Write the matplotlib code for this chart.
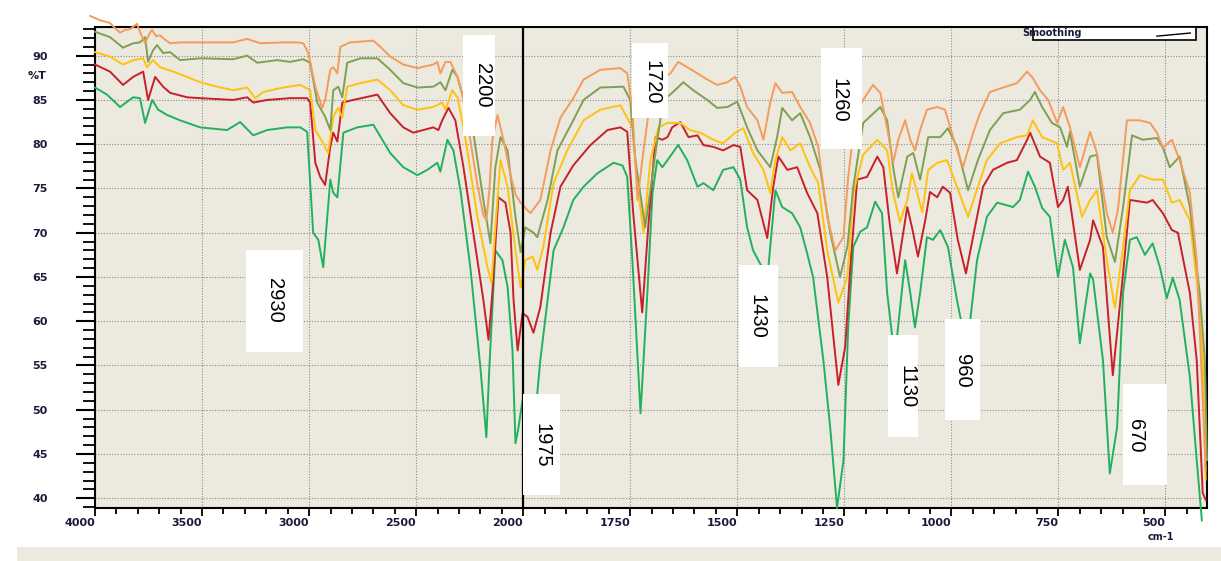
import numpy as np
import matplotlib
matplotlib.use("Agg")
import matplotlib.pyplot as plt
from matplotlib.patches import Rectangle
from matplotlib.lines import Line2D

# Spectres IR (%T en fonction du nombre d'onde, cm-1)
wn_orange = [4023, 3977, 3930, 3906, 3883, 3860, 3836, 3804, 3790, 3766, 3743, 3733, 3715, 3696, 3673, 3649,
             3603, 3509, 3355, 3289, 3228, 3121, 3055, 3027, 3004, 2971, 2939, 2925, 2901, 2887, 2868, 2854,
             2808, 2700, 2667, 2621, 2560, 2494, 2420, 2401, 2387, 2363, 2340, 2307, 2284, 2247, 2214, 2186,
             2172, 2158, 2144, 2120, 2092, 2059, 2036, 2012, 1995, 1983, 1960, 1936, 1913, 1883, 1859, 1820,
             1773, 1757, 1745, 1733, 1719, 1703, 1680, 1656, 1638, 1617, 1593, 1570, 1547, 1523, 1505, 1493,
             1477, 1453, 1439, 1423, 1411, 1395, 1372, 1353, 1330, 1311, 1290, 1271, 1252, 1241, 1224, 1206,
             1183, 1166, 1148, 1136, 1124, 1108, 1096, 1085, 1073, 1057, 1033, 1015, 996, 973, 949, 933, 910,
             879, 847, 823, 810, 793, 774, 753, 739, 723, 700, 676, 660, 637, 623, 611, 590, 560, 536, 520,
             506, 485, 467, 443, 427, 413, 406]
t_orange = [94.5, 94.0, 93.7, 93.1, 92.6, 92.9, 93.0, 93.6, 92.7, 91.4, 92.6, 92.9, 92.2, 92.3, 91.8, 91.4,
            91.5, 91.5, 91.5, 91.9, 91.4, 91.5, 91.5, 91.4, 90.3, 86.5, 84.1, 85.0, 88.4, 88.7, 88.0, 91.0,
            91.5, 91.7, 91.0, 89.9, 89.0, 88.6, 89.0, 89.3, 88.0, 89.3, 89.3, 87.6, 85.6, 80.5, 75.4, 72.0,
            71.4, 74.8, 80.5, 83.3, 80.5, 76.5, 74.3, 73.4, 72.8, 72.2, 73.7, 79.3, 83.0, 85.2, 87.3, 88.4,
            88.6, 88.0, 83.9, 73.7, 79.3, 85.0, 87.3, 88.0, 89.3, 88.7, 88.0, 87.3, 86.7, 87.0, 87.6, 86.5,
            84.2, 82.7, 80.5, 84.7, 86.9, 85.8, 85.9, 84.2, 82.4, 79.7, 71.8, 68.0, 69.5, 76.3, 83.3, 85.0,
            86.7, 85.8, 81.3, 77.9, 80.5, 82.7, 80.5, 79.3, 81.6, 83.9, 84.2, 83.9, 80.8, 77.4, 81.3, 83.5, 85.9,
            86.4, 86.9, 88.2, 87.5, 86.1, 85.0, 82.4, 84.2, 81.9, 77.4, 81.4, 79.0, 72.2, 70.0, 72.6, 82.7, 82.7, 82.4, 81.3,
            79.6, 80.5, 78.2, 74.5, 66.9, 51.1, 43.2]

wn_olive = [4000, 3930, 3869, 3822, 3790, 3766, 3752, 3729, 3710, 3682, 3649, 3603, 3509, 3355, 3289, 3242,
            3149, 3088, 3027, 2995, 2962, 2925, 2901, 2887, 2864, 2845, 2822, 2761, 2681, 2621, 2560, 2494,
            2420, 2387, 2363, 2331, 2307, 2270, 2233, 2186, 2153, 2130, 2106, 2073, 2036, 2012, 1995, 1976,
            1967, 1943, 1920, 1883, 1859, 1820, 1766, 1750, 1738, 1715, 1691, 1673, 1652, 1626, 1603, 1570,
            1547, 1523, 1500, 1477, 1453, 1423, 1407, 1395, 1372, 1353, 1330, 1306, 1283, 1260, 1243, 1229,
            1206, 1166, 1150, 1136, 1124, 1103, 1089, 1073, 1054, 1026, 1008, 987, 961, 938, 910, 879, 840,
            816, 805, 788, 765, 746, 730, 723, 700, 676, 660, 637, 618, 599, 578, 553, 520, 506, 490, 467,
            443, 420, 408, 403]
t_olive = [92.7, 92.1, 90.9, 91.4, 91.5, 92.1, 89.3, 90.6, 91.2, 90.3, 90.4, 89.5, 89.7, 89.6, 90.0, 89.2,
           89.5, 89.3, 89.6, 89.2, 84.7, 83.1, 81.6, 86.1, 86.5, 85.3, 89.2, 89.7, 89.7, 88.4, 86.9, 86.4,
           86.5, 87.0, 86.1, 88.4, 87.6, 84.4, 81.3, 73.7, 68.8, 77.4, 80.8, 79.3, 71.8, 67.8, 70.6, 70.0,
           69.5, 73.7, 79.3, 82.7, 85.0, 86.4, 86.5, 85.0, 78.2, 70.6, 79.0, 85.0, 85.8, 87.0, 86.1, 85.0,
           84.1, 84.2, 84.8, 81.9, 79.3, 77.4, 80.8, 84.1, 82.7, 83.5, 80.8, 77.1, 70.0, 65.0, 68.4, 75.2,
           82.4, 84.2, 82.7, 77.4, 74.0, 78.6, 79.0, 76.0, 80.8, 80.8, 81.8, 79.7, 74.8, 78.2, 81.6, 83.5, 83.9,
           85.0, 85.9, 84.2, 82.4, 81.9, 79.7, 81.4, 75.2, 78.6, 78.8, 69.5, 66.7, 72.9, 81.0, 80.5, 80.7, 79.6, 77.4, 78.6,
           72.9, 63.2, 55.6, 44.3]

wn_yellow = [4000, 3930, 3869, 3822, 3775, 3757, 3729, 3696, 3635, 3570, 3509, 3430, 3355, 3289, 3252, 3214,
             3121, 3041, 2995, 2971, 2934, 2911, 2887, 2864, 2845, 2822, 2761, 2681, 2621, 2560, 2494, 2420,
             2378, 2363, 2331, 2307, 2279, 2261, 2214, 2167, 2148, 2130, 2106, 2073, 2036, 2012, 1995, 1978,
             1967, 1953, 1929, 1897, 1859, 1820, 1773, 1745, 1731, 1719, 1703, 1684, 1663, 1633, 1610, 1586,
             1556, 1533, 1505, 1486, 1463, 1439, 1423, 1411, 1395, 1376, 1353, 1330, 1311, 1290, 1264, 1243,
             1229, 1206, 1173, 1150, 1136, 1120, 1103, 1092, 1080, 1068, 1054, 1033, 1010, 987, 961, 938, 917,
             886, 847, 823, 810, 788, 753, 739, 723, 695, 676, 660, 637, 618, 599, 583, 560, 530, 506, 485,
             467, 443, 424, 413, 406]
t_yellow = [90.4, 89.9, 89.0, 89.5, 89.7, 88.7, 89.5, 88.7, 88.2, 87.6, 87.0, 86.5, 86.1, 86.4, 85.2, 85.9,
            86.4, 86.7, 86.1, 81.6, 80.1, 79.0, 83.1, 84.1, 83.0, 86.5, 86.9, 87.3, 86.1, 84.4, 83.9, 84.2,
            84.7, 83.9, 86.1, 85.3, 81.9, 79.3, 71.8, 66.1, 64.3, 70.6, 78.2, 75.2, 68.0, 63.8, 66.9, 67.3,
            65.8, 68.4, 75.6, 79.3, 82.7, 83.9, 84.4, 81.9, 74.5, 70.0, 78.2, 81.9, 82.4, 82.4, 81.6, 81.3,
            80.5, 80.1, 81.3, 81.8, 79.0, 77.1, 74.5, 78.2, 80.8, 79.3, 80.1, 77.4, 75.6, 68.0, 62.1, 65.0,
            74.5, 78.8, 80.5, 79.3, 74.5, 71.2, 73.7, 76.7, 74.5, 72.3, 77.1, 77.9, 78.2, 75.2, 71.8, 75.2, 78.2,
            80.1, 80.8, 81.0, 82.7, 80.8, 80.1, 77.1, 77.9, 71.8, 73.7, 74.8, 66.9, 61.5, 68.4, 74.8, 76.5, 76.0, 76.0, 73.4,
            73.7, 71.4, 63.2, 55.6, 42.1]

wn_red = [4000, 3930, 3869, 3822, 3775, 3752, 3719, 3682, 3649, 3570, 3509, 3355, 3289, 3261, 3196, 3088,
          3009, 2995, 2971, 2948, 2925, 2901, 2887, 2868, 2845, 2794, 2681, 2621, 2560, 2513, 2420, 2396,
          2378, 2349, 2317, 2279, 2233, 2186, 2162, 2144, 2116, 2083, 2059, 2045, 2026, 2003, 1990, 1976,
          1960, 1936, 1913, 1883, 1843, 1803, 1773, 1757, 1743, 1722, 1708, 1691, 1675, 1663, 1652, 1633,
          1614, 1593, 1579, 1556, 1533, 1509, 1493, 1477, 1453, 1430, 1416, 1404, 1383, 1360, 1337, 1313,
          1290, 1264, 1248, 1236, 1220, 1197, 1173, 1159, 1143, 1127, 1115, 1103, 1092, 1078, 1061, 1050,
          1033, 1020, 1003, 985, 966, 945, 926, 903, 870, 847, 823, 816, 793, 770, 751, 739, 728, 700, 676,
          669, 646, 623, 599, 583, 543, 530, 506, 485, 471, 443, 427, 413, 406]
t_red = [89.0, 88.2, 86.7, 87.6, 88.2, 85.0, 87.6, 86.5, 85.8, 85.3, 85.2, 85.0, 85.3, 84.7, 85.0, 85.2,
         85.2, 84.7, 77.9, 76.3, 75.4, 79.7, 81.3, 80.3, 84.7, 85.0, 85.6, 83.5, 81.9, 81.3, 81.9, 81.6,
         82.7, 84.1, 82.7, 77.4, 70.0, 62.4, 57.9, 63.2, 74.0, 73.4, 70.0, 62.4, 56.7, 60.9, 60.5, 58.7,
         61.6, 70.0, 75.2, 77.6, 79.9, 81.6, 81.9, 81.4, 72.2, 61.0, 70.6, 80.8, 80.5, 80.8, 81.9, 82.5,
         80.8, 81.0, 79.9, 79.7, 79.3, 79.9, 79.7, 74.8, 73.7, 69.4, 75.2, 78.6, 77.1, 77.4, 74.5, 72.2,
         65.0, 52.8, 57.1, 66.1, 76.0, 76.3, 78.6, 77.4, 70.6, 65.4, 69.2, 72.9, 70.6, 67.3, 71.4, 74.6,
         74.0, 75.2, 74.5, 69.2, 65.4, 70.6, 75.2, 77.1, 77.9, 78.2, 80.5, 81.3, 78.6, 77.9, 72.9, 73.7, 75.2, 65.8, 69.2,
         71.4, 68.4, 53.9, 65.4, 73.7, 73.4, 73.7, 72.2, 70.3, 70.0, 63.2, 55.6, 40.6, 39.8]

wn_green = [4000, 3944, 3883, 3822, 3790, 3766, 3733, 3705, 3663, 3603, 3509, 3383, 3322, 3261, 3196, 3102,
            3041, 3009, 2981, 2957, 2934, 2915, 2901, 2887, 2868, 2840, 2775, 2700, 2621, 2560, 2494, 2448,
            2401, 2387, 2354, 2326, 2293, 2247, 2200, 2172, 2158, 2130, 2097, 2073, 2050, 2036, 2022, 2003,
            1990, 1976, 1967, 1960, 1929, 1906, 1883, 1859, 1827, 1789, 1768, 1757, 1745, 1726, 1710, 1698,
            1687, 1675, 1663, 1638, 1617, 1593, 1579, 1556, 1533, 1509, 1493, 1477, 1463, 1439, 1430, 1411,
            1395, 1372, 1353, 1337, 1323, 1299, 1283, 1267, 1252, 1241, 1229, 1213, 1197, 1178, 1162, 1150,
            1138, 1131, 1127, 1108, 1096, 1085, 1073, 1057, 1043, 1026, 1008, 987, 973, 956, 940, 917, 893,
            856, 840, 821, 805, 788, 770, 751, 735, 716, 700, 676, 669, 646, 630, 613, 599, 583, 567, 548,
            530, 513, 497, 483, 467, 443, 427, 415]
t_green = [86.4, 85.6, 84.2, 85.3, 85.2, 82.4, 85.0, 83.9, 83.3, 82.7, 81.9, 81.6, 82.5, 81.0, 81.6, 81.9,
           81.9, 81.4, 70.0, 69.2, 66.1, 71.8, 76.0, 74.5, 74.0, 81.3, 81.9, 82.2, 79.0, 77.4, 76.5, 77.1,
           77.9, 76.9, 80.5, 79.3, 74.8, 66.1, 54.8, 46.9, 54.8, 68.0, 66.9, 63.9, 56.7, 46.2, 48.0, 51.1,
           48.8, 50.0, 51.9, 55.6, 68.0, 70.6, 73.7, 75.2, 76.7, 77.9, 77.6, 76.3, 66.9, 49.6, 63.2, 74.5,
           78.2, 77.4, 78.2, 79.9, 78.2, 75.2, 75.6, 74.8, 77.1, 77.4, 76.0, 70.6, 68.0, 65.8, 64.7, 74.8,
           72.9, 72.2, 70.6, 67.7, 65.0, 55.6, 48.0, 38.9, 44.3, 59.3, 68.4, 70.1, 70.6, 73.5, 72.2, 63.2,
           58.2, 55.6, 58.2, 66.9, 63.2, 59.3, 63.2, 69.5, 69.2, 70.3, 68.4, 62.4, 59.0, 60.1, 66.9, 71.8, 73.4,
           72.9, 73.7, 76.9, 75.2, 72.8, 71.8, 65.0, 69.2, 66.1, 57.5, 65.4, 64.7, 55.6, 42.8, 48.0, 63.2, 69.2, 69.5, 67.5,
           68.8, 66.1, 62.6, 64.9, 62.4, 53.7, 44.3, 37.5]

series = [
    (wn_green, t_green, "#21B15E"),
    (wn_red, t_red, "#C8202A"),
    (wn_yellow, t_yellow, "#FFC20E"),
    (wn_olive, t_olive, "#7FA052"),
    (wn_orange, t_orange, "#F59B5B"),
]

# Etiquettes des bandes: texte, position du texte, cadre blanc (wn1, wn2, T1, T2)
ann_text = ["2930", "2200", "1975", "1720", "1430", "1260", "1130", "960", "670"]
ann_x = [3163, 2190, 1957, 1700, 1453, 1262, 1103, 973, 570]
ann_y = [62.4, 86.7, 46.0, 87.0, 60.5, 85.0, 52.6, 54.4, 47.1]
ann_box = [(3295, 3029, 56.55, 68.0), (2283, 2130, 80.9, 92.3), (2000, 1913, 40.4, 51.8),
           (1745, 1661, 82.96, 91.4), (1495, 1404, 54.8, 66.35), (1304, 1209, 79.45, 90.9),
           (1148, 1078, 46.9, 58.4), (1015, 933, 48.83, 60.25), (599, 497, 41.5, 52.9)]

major_x = [4000, 3500, 3000, 2500, 2000, 1750, 1500, 1250, 1000, 750, 500]
minor_x = [w for w in list(range(3900, 2000, -100)) + list(range(1950, 400, -50)) if w not in major_x]


# echelle x avec changement de pas a 2000 cm-1
def fwd(w):
    w = np.asarray(w, dtype=float)
    return np.where(w >= 2000, 2000 + (w - 2000) * 0.5, w)


def inv(v):
    v = np.asarray(v, dtype=float)
    return np.where(v >= 2000, 2000 + (v - 2000) * 2.0, v)


fig = plt.figure(figsize=(12.21, 5.61), dpi=100)
fig.add_artist(Rectangle((17 / 1221, 0), 1, 14 / 561, transform=fig.transFigure,
                         facecolor="#ECE9DF", edgecolor="none", zorder=0))
ax = fig.add_axes([95 / 1221, 53 / 561, 1112 / 1221, 481 / 561])
ax.set_facecolor("#ECE9DF")
ax.set_xscale("function", functions=(fwd, inv))
ax.set_xlim(4000, 403)
ax.set_ylim(38.9, 93.24)

for wn, t, c in series:
    ax.plot(wn, t, color=c, lw=1.4, clip_on=False, zorder=3, solid_joinstyle="round")

ax.axvline(2000, color="black", lw=1.6, zorder=4)

for txt, x, y, (x1, x2, y1, y2) in zip(ann_text, ann_x, ann_y, ann_box):
    ax.add_patch(Rectangle((x2, y1), x1 - x2, y2 - y1, facecolor="white", edgecolor="none", zorder=5))
    ax.text(x, y, txt, rotation=270, ha="center", va="center", fontsize=14.5,
            family="Liberation Sans", color="black", zorder=6)

# ticks
ax.set_xticks(major_x)
ax.set_xticklabels([str(v) for v in major_x])
ax.set_xticks(minor_x, minor=True)
ax.set_yticks(np.arange(40, 91, 5))
ax.set_yticks(np.arange(39, 94, 1), minor=True)
ax.tick_params(axis="x", which="major", length=6, width=1.3, pad=1.5, labelsize=8, colors="black")
ax.tick_params(axis="x", which="minor", length=4, width=1.3)
ax.tick_params(axis="y", which="major", length=14, width=1.5, pad=20, labelsize=8)
ax.tick_params(axis="y", which="minor", length=8.5, width=1.3)
for lbl in ax.get_xticklabels():
    lbl.set_ha("right")
    lbl.set_fontweight("bold")
    lbl.set_color("#1a1a3a")
for lbl in ax.get_yticklabels():
    lbl.set_fontweight("bold")
    lbl.set_color("#1a1a3a")

ax.grid(which="major", color="#8c8c8c", linestyle=(0, (1, 1.5)), linewidth=0.8)
for s in ax.spines.values():
    s.set_color("black")
    s.set_linewidth(1.5)

# petite legende "Smoothing"
ax.add_patch(Rectangle((0.8435, 0.973), 0.1465, 0.027, transform=ax.transAxes,
                       facecolor="white", edgecolor="black", lw=1.2, zorder=7))
ax.text(0.834, 0.987, "Smoothing", transform=ax.transAxes, fontsize=7, fontweight="bold",
        ha="left", va="center", color="#1a1a3a", zorder=8)
ax.add_line(Line2D([0.955, 0.985], [0.981, 0.9875], transform=ax.transAxes, color="black", lw=1, zorder=8))

fig.text(37 / 1221, 1 - 76 / 561, "%T", fontsize=8, fontweight="bold", ha="center", va="center", color="#1a1a3a")
fig.text(1161 / 1221, 1 - 537 / 561, "cm-1", fontsize=7, fontweight="bold", ha="center", va="center", color="#1a1a3a")

fig.savefig("out.png", dpi=100)
